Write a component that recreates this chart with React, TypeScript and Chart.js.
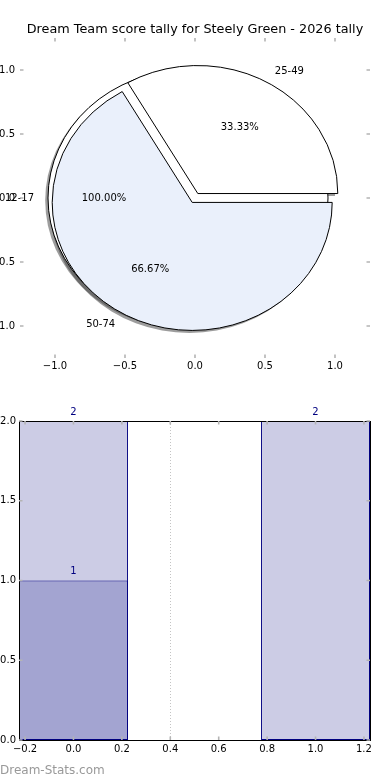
import React, { useEffect, useRef } from "react";
import { Chart, registerables } from "chart.js";

Chart.register(...registerables);

const TITLE = "Dream Team score tally for Steely Green - 2026 tally";

// Pie layer drawn first: a single full slice
const fullPieCategories = ["12-17"];
const fullPieValues = [1];
const fullPieColors = ["#ffffff"];
const fullPieExplode = [0.05];

// Pie layer drawn on top: two slices (counter-clockwise from 3 o'clock)
const pieCategories = ["25-49", "50-74"];
const pieValues = [1, 2];
const pieColors = ["#ffffff", "#eaf0fb"];
const pieExplode = [0.04, 0.04];

const pieAxisTicks = [-1.0, -0.5, 0.0, 0.5, 1.0];

// Bottom bar chart
const barPositions = [0, 1];
const barBackValues = [2, 2];
const barFrontValues = [1, 0];
const barXTicks = [-0.2, 0.0, 0.2, 0.4, 0.6, 0.8, 1.0, 1.2];
const barYTicks = [0.0, 0.5, 1.0, 1.5, 2.0];
const markerLineX = 0.4;

const WATERMARK = "Dream-Stats.com";

// style: bar width in x units; Chart.js measures bar size against the smallest tick gap
const BAR_WIDTH_UNITS = 0.45;
const TICK_GAP_UNITS = 0.2;

const FONT = "'DejaVu Sans', sans-serif";
const fmt = (v: number) => (v < 0 ? "\u2212" : "") + Math.abs(v).toFixed(1);
const setTicks = (values: number[]) => (scale: any) => {
  scale.ticks = values.map((v) => ({ value: v }));
};

const inwardTicks = {
  id: "inwardTicks",
  afterDraw(chart: any) {
    const { ctx, chartArea: a } = chart;
    const sx = chart.scales.x;
    const sy = chart.scales.y;
    const L = 3.5;
    ctx.save();
    ctx.strokeStyle = "#b4b4b4";
    ctx.lineWidth = 1.6;
    ctx.beginPath();
    sx.ticks.forEach((t: any) => {
      const px = sx.getPixelForValue(t.value);
      ctx.moveTo(px, a.top);
      ctx.lineTo(px, a.top + L);
      ctx.moveTo(px, a.bottom);
      ctx.lineTo(px, a.bottom - L);
    });
    sy.ticks.forEach((t: any) => {
      const py = sy.getPixelForValue(t.value);
      ctx.moveTo(a.left, py);
      ctx.lineTo(a.left + L, py);
      ctx.moveTo(a.right, py);
      ctx.lineTo(a.right - L, py);
    });
    ctx.stroke();
    ctx.restore();
  },
};

function pieGeometry(chart: any) {
  const sx = chart.scales.x;
  const sy = chart.scales.y;
  const ox = sx.getPixelForValue(0);
  const oy = sy.getPixelForValue(0);
  const rx = sx.getPixelForValue(1) - ox;
  const ry = oy - sy.getPixelForValue(1);
  // dataset 0 holds the two-slice pie (reversed for clockwise drawing), dataset 1 the full pie
  const layers = [
    { meta: chart.getDatasetMeta(1), explode: fullPieExplode, cats: fullPieCategories, vals: fullPieValues },
    {
      meta: chart.getDatasetMeta(0),
      explode: [...pieExplode].reverse(),
      cats: [...pieCategories].reverse(),
      vals: [...pieValues].reverse(),
    },
  ];
  const shapes: any[] = [];
  layers.forEach((L) => {
    const total = L.vals.reduce((s, v) => s + v, 0);
    L.meta.data.forEach((el: any, i: number) => {
      const start = el.startAngle;
      const end = el.endAngle;
      const mid = (start + end) / 2;
      const e = L.explode[i];
      shapes.push({
        cx: ox + Math.cos(mid) * e * rx,
        cy: oy + Math.sin(mid) * e * ry,
        start,
        end,
        mid,
        fill: el.options.backgroundColor,
        label: L.cats[i],
        pct: ((L.vals[i] / total) * 100).toFixed(2) + "%",
      });
    });
  });
  return { rx, ry, shapes };
}

const ellipsePie = {
  id: "ellipsePie",
  beforeDatasetsDraw(chart: any) {
    const ctx = chart.ctx;
    const { rx, ry, shapes } = pieGeometry(chart);
    const path = (s: any, dx: number, dy: number) => {
      const full = s.end - s.start >= 2 * Math.PI - 1e-6;
      ctx.beginPath();
      if (!full) ctx.moveTo(s.cx + dx, s.cy + dy);
      ctx.ellipse(s.cx + dx, s.cy + dy, rx, ry, 0, s.start, s.end);
      if (!full) ctx.closePath();
    };
    ctx.save();
    shapes.forEach((s) => {
      path(s, -0.02 * rx, 0.02 * ry);
      ctx.fillStyle = "rgba(60,60,60,0.5)";
      ctx.fill();
    });
    shapes.forEach((s) => {
      path(s, 0, 0);
      ctx.fillStyle = s.fill;
      ctx.fill();
      ctx.strokeStyle = "#000";
      ctx.lineWidth = 1;
      ctx.lineJoin = "miter";
      ctx.stroke();
    });
    ctx.restore();
    return false;
  },
  afterDraw(chart: any) {
    const ctx = chart.ctx;
    const { rx, ry, shapes } = pieGeometry(chart);
    ctx.save();
    ctx.fillStyle = "#000";
    ctx.font = `10px ${FONT}`;
    ctx.textBaseline = "middle";
    shapes.forEach((s) => {
      const c = Math.cos(s.mid);
      const sn = Math.sin(s.mid);
      ctx.textAlign = c >= 0 ? "left" : "right";
      ctx.fillText(s.label, s.cx + c * 1.1 * rx, s.cy + sn * 1.1 * ry);
    });
    shapes.forEach((s) => {
      const c = Math.cos(s.mid);
      const sn = Math.sin(s.mid);
      ctx.textAlign = "center";
      ctx.fillText(s.pct, s.cx + c * 0.6 * rx, s.cy + sn * 0.6 * ry);
    });
    ctx.restore();
  },
};

const barExtras = {
  id: "barExtras",
  beforeDatasetsDraw(chart: any) {
    const { ctx, chartArea: a } = chart;
    const px = chart.scales.x.getPixelForValue(markerLineX);
    ctx.save();
    ctx.strokeStyle = "#c4c4c4";
    ctx.lineWidth = 1;
    ctx.setLineDash([1, 2]);
    ctx.beginPath();
    ctx.moveTo(Math.round(px) + 0.5, a.top);
    ctx.lineTo(Math.round(px) + 0.5, a.bottom);
    ctx.stroke();
    ctx.restore();
  },
  afterDatasetsDraw(chart: any) {
    const { ctx, chartArea: a } = chart;
    ctx.save();
    ctx.strokeStyle = "#000";
    ctx.lineWidth = 1;
    ctx.strokeRect(Math.round(a.left) + 0.5, Math.round(a.top) + 0.5, Math.round(a.right - a.left), Math.round(a.bottom - a.top));
    ctx.fillStyle = "#000080";
    ctx.font = `10px ${FONT}`;
    ctx.textAlign = "center";
    ctx.textBaseline = "bottom";
    chart.data.datasets.forEach((ds: any, di: number) => {
      const meta = chart.getDatasetMeta(di);
      meta.data.forEach((el: any, i: number) => {
        const v = ds.data[i].y;
        if (v > 0) ctx.fillText(String(v), el.x, el.y - 4);
      });
    });
    ctx.restore();
  },
};

const tickFont = { family: FONT, size: 10 };

export default function App() {
  const topRef = useRef<HTMLCanvasElement>(null);
  const botRef = useRef<HTMLCanvasElement>(null);

  useEffect(() => {
    const top = new Chart(topRef.current as HTMLCanvasElement, {
      type: "pie",
      data: {
        labels: [...pieCategories].reverse(),
        datasets: [
          { data: [...pieValues].reverse(), backgroundColor: [...pieColors].reverse(), borderWidth: 0 },
          { data: fullPieValues, backgroundColor: fullPieColors, borderWidth: 0 },
        ],
      },
      options: {
        animation: false,
        responsive: false,
        events: [],
        rotation: 90,
        layout: { padding: 0 },
        plugins: {
          legend: { display: false },
          tooltip: { enabled: false },
          title: {
            display: true,
            text: TITLE,
            color: "#000",
            font: { family: FONT, size: 12.8, weight: "normal" },
            padding: { top: 22, bottom: 0.6 },
          },
        },
        scales: {
          x: {
            type: "linear",
            position: "bottom",
            min: -1.25,
            max: 1.25,
            afterBuildTicks: setTicks(pieAxisTicks),
            afterFit: (s: any) => {
              s.height = 32;
            },
            grid: { display: false, drawTicks: false },
            border: { display: false },
            ticks: { font: tickFont, color: "#000", padding: 2, maxRotation: 0, autoSkip: false, callback: (v: any) => fmt(Number(v)) },
          },
          y: {
            type: "linear",
            position: "left",
            min: -1.25,
            max: 1.25,
            afterBuildTicks: setTicks(pieAxisTicks),
            afterFit: (s: any) => {
              s.width = 20;
            },
            grid: { display: false, drawTicks: false },
            border: { display: false },
            ticks: { font: tickFont, color: "#000", padding: 5, autoSkip: false, callback: (v: any) => fmt(Number(v)) },
          },
          yr: {
            type: "linear",
            position: "right",
            min: -1.25,
            max: 1.25,
            afterFit: (s: any) => {
              s.width = 20;
            },
            grid: { display: false, drawTicks: false },
            border: { display: false },
            ticks: { display: false },
          },
        },
      } as any,
      plugins: [ellipsePie, inwardTicks],
    });

    const mkData = (vals: number[]) => barPositions.map((x, i) => ({ x, y: vals[i] }));
    const barPct = BAR_WIDTH_UNITS / TICK_GAP_UNITS;
    const bot = new Chart(botRef.current as HTMLCanvasElement, {
      type: "bar",
      data: {
        datasets: [
          {
            label: "front",
            data: mkData(barFrontValues),
            backgroundColor: "#a3a4d1",
            borderColor: "#000080",
            borderWidth: (c: any) => (c.raw && c.raw.y ? 1 : 0),
            borderSkipped: false,
            grouped: false,
            barPercentage: barPct,
            categoryPercentage: 1,
            order: 0,
          },
          {
            label: "back",
            data: mkData(barBackValues),
            backgroundColor: "#cccce5",
            borderColor: "#000080",
            borderWidth: 1,
            borderSkipped: false,
            grouped: false,
            barPercentage: barPct,
            categoryPercentage: 1,
            order: 1,
          },
        ],
      } as any,
      options: {
        animation: false,
        responsive: false,
        events: [],
        layout: { padding: { top: 31 } },
        plugins: {
          legend: { display: false },
          tooltip: { enabled: false },
          title: { display: false },
        },
        scales: {
          x: {
            type: "linear",
            offset: false,
            min: -0.225,
            max: 1.225,
            afterBuildTicks: setTicks(barXTicks),
            afterFit: (s: any) => {
              s.height = 40;
            },
            grid: { display: false, drawTicks: false },
            border: { display: false },
            ticks: { font: tickFont, color: "#000", padding: 3, maxRotation: 0, autoSkip: false, callback: (v: any) => fmt(Number(v)) },
          },
          y: {
            type: "linear",
            position: "left",
            min: 0,
            max: 2,
            afterBuildTicks: setTicks(barYTicks),
            afterFit: (s: any) => {
              s.width = 19;
            },
            grid: { display: false, drawTicks: false },
            border: { display: false },
            ticks: { font: tickFont, color: "#000", padding: 3, autoSkip: false, callback: (v: any) => fmt(Number(v)) },
          },
          yr: {
            type: "linear",
            position: "right",
            min: 0,
            max: 2,
            afterFit: (s: any) => {
              s.width = 20;
            },
            grid: { display: false, drawTicks: false },
            border: { display: false },
            ticks: { display: false },
          },
        },
      } as any,
      plugins: [barExtras, inwardTicks],
    });

    return () => {
      top.destroy();
      bot.destroy();
    };
  }, []);

  return (
    <div style={{ position: "fixed", left: 0, top: 0, width: 390, height: 780, background: "#fff", overflow: "hidden" }}>
      <canvas ref={topRef} width={390} height={390} style={{ position: "absolute", left: 0, top: 0, width: 390, height: 390 }} />
      <canvas ref={botRef} width={390} height={390} style={{ position: "absolute", left: 0, top: 390, width: 390, height: 390 }} />
      <div
        style={{
          position: "absolute",
          left: 0,
          top: 763,
          fontFamily: FONT,
          fontSize: 12,
          lineHeight: "14px",
          color: "#999",
          whiteSpace: "nowrap",
        }}
      >
        {WATERMARK}
      </div>
    </div>
  );
}
